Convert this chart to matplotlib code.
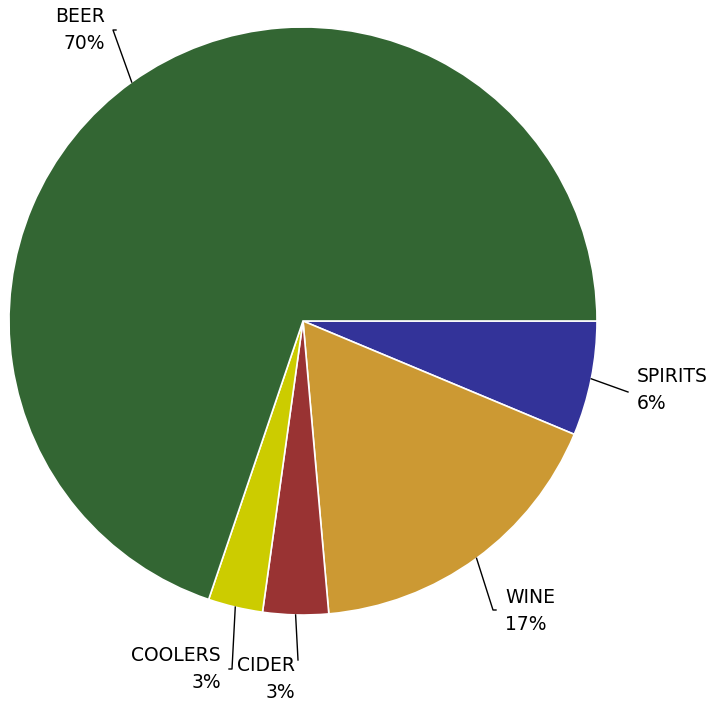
import numpy as np
import matplotlib.pyplot as plt

# data (clockwise from 3 o'clock)
categories = ["SPIRITS", "WINE", "CIDER", "COOLERS", "BEER"]
shares = [6.3, 17.3, 3.6, 3.0, 69.8]
pct_labels = ["6%", "17%", "3%", "3%", "70%"]
colors = ["#333399", "#cc9933", "#993333", "#cccc00", "#336633"]

W, H = 719, 706
fig = plt.figure(figsize=(W / 100, H / 100), dpi=100)
ax = fig.add_axes([0, 0, 1, 1])

cx, cy, R = 303, H - 321, 294
wedges, _ = ax.pie(shares, colors=colors, startangle=0, counterclock=False,
                   center=(cx, cy), radius=R, frame=True,
                   wedgeprops=dict(edgecolor="white", linewidth=1.2))
ax.set_xlim(0, W)
ax.set_ylim(0, H)
ax.set_aspect("equal")
ax.axis("off")

# label layout: leader end point (px, top-left origin), tick dir, text anchor
layout = {
    "SPIRITS": ((628, 392), 0, (637, 390), "left"),
    "WINE": ((493, 610), 3, (505, 611), "left"),
    "CIDER": ((298, 660), 0, (295, 679), "right"),
    "COOLERS": ((232, 669), -3, (221, 669), "right"),
    "BEER": ((113, 30), 3, (105, 30), "right"),
}

for w, name, pct in zip(wedges, categories, pct_labels):
    mid = np.deg2rad((w.theta1 + w.theta2) / 2)
    x0, y0 = cx + R * np.cos(mid), cy + R * np.sin(mid)
    (ex, ey), tick, (tx, ty), ha = layout[name]
    ey = H - ey
    ax.plot([x0, ex, ex + tick], [y0, ey, ey], color="black", lw=1)
    ax.text(tx, H - ty, name + "\n" + pct, ha=ha, va="center",
            multialignment=ha, fontsize=13.5, linespacing=1.55,
            family="DejaVu Sans")

fig.savefig("out.png", dpi=100)
